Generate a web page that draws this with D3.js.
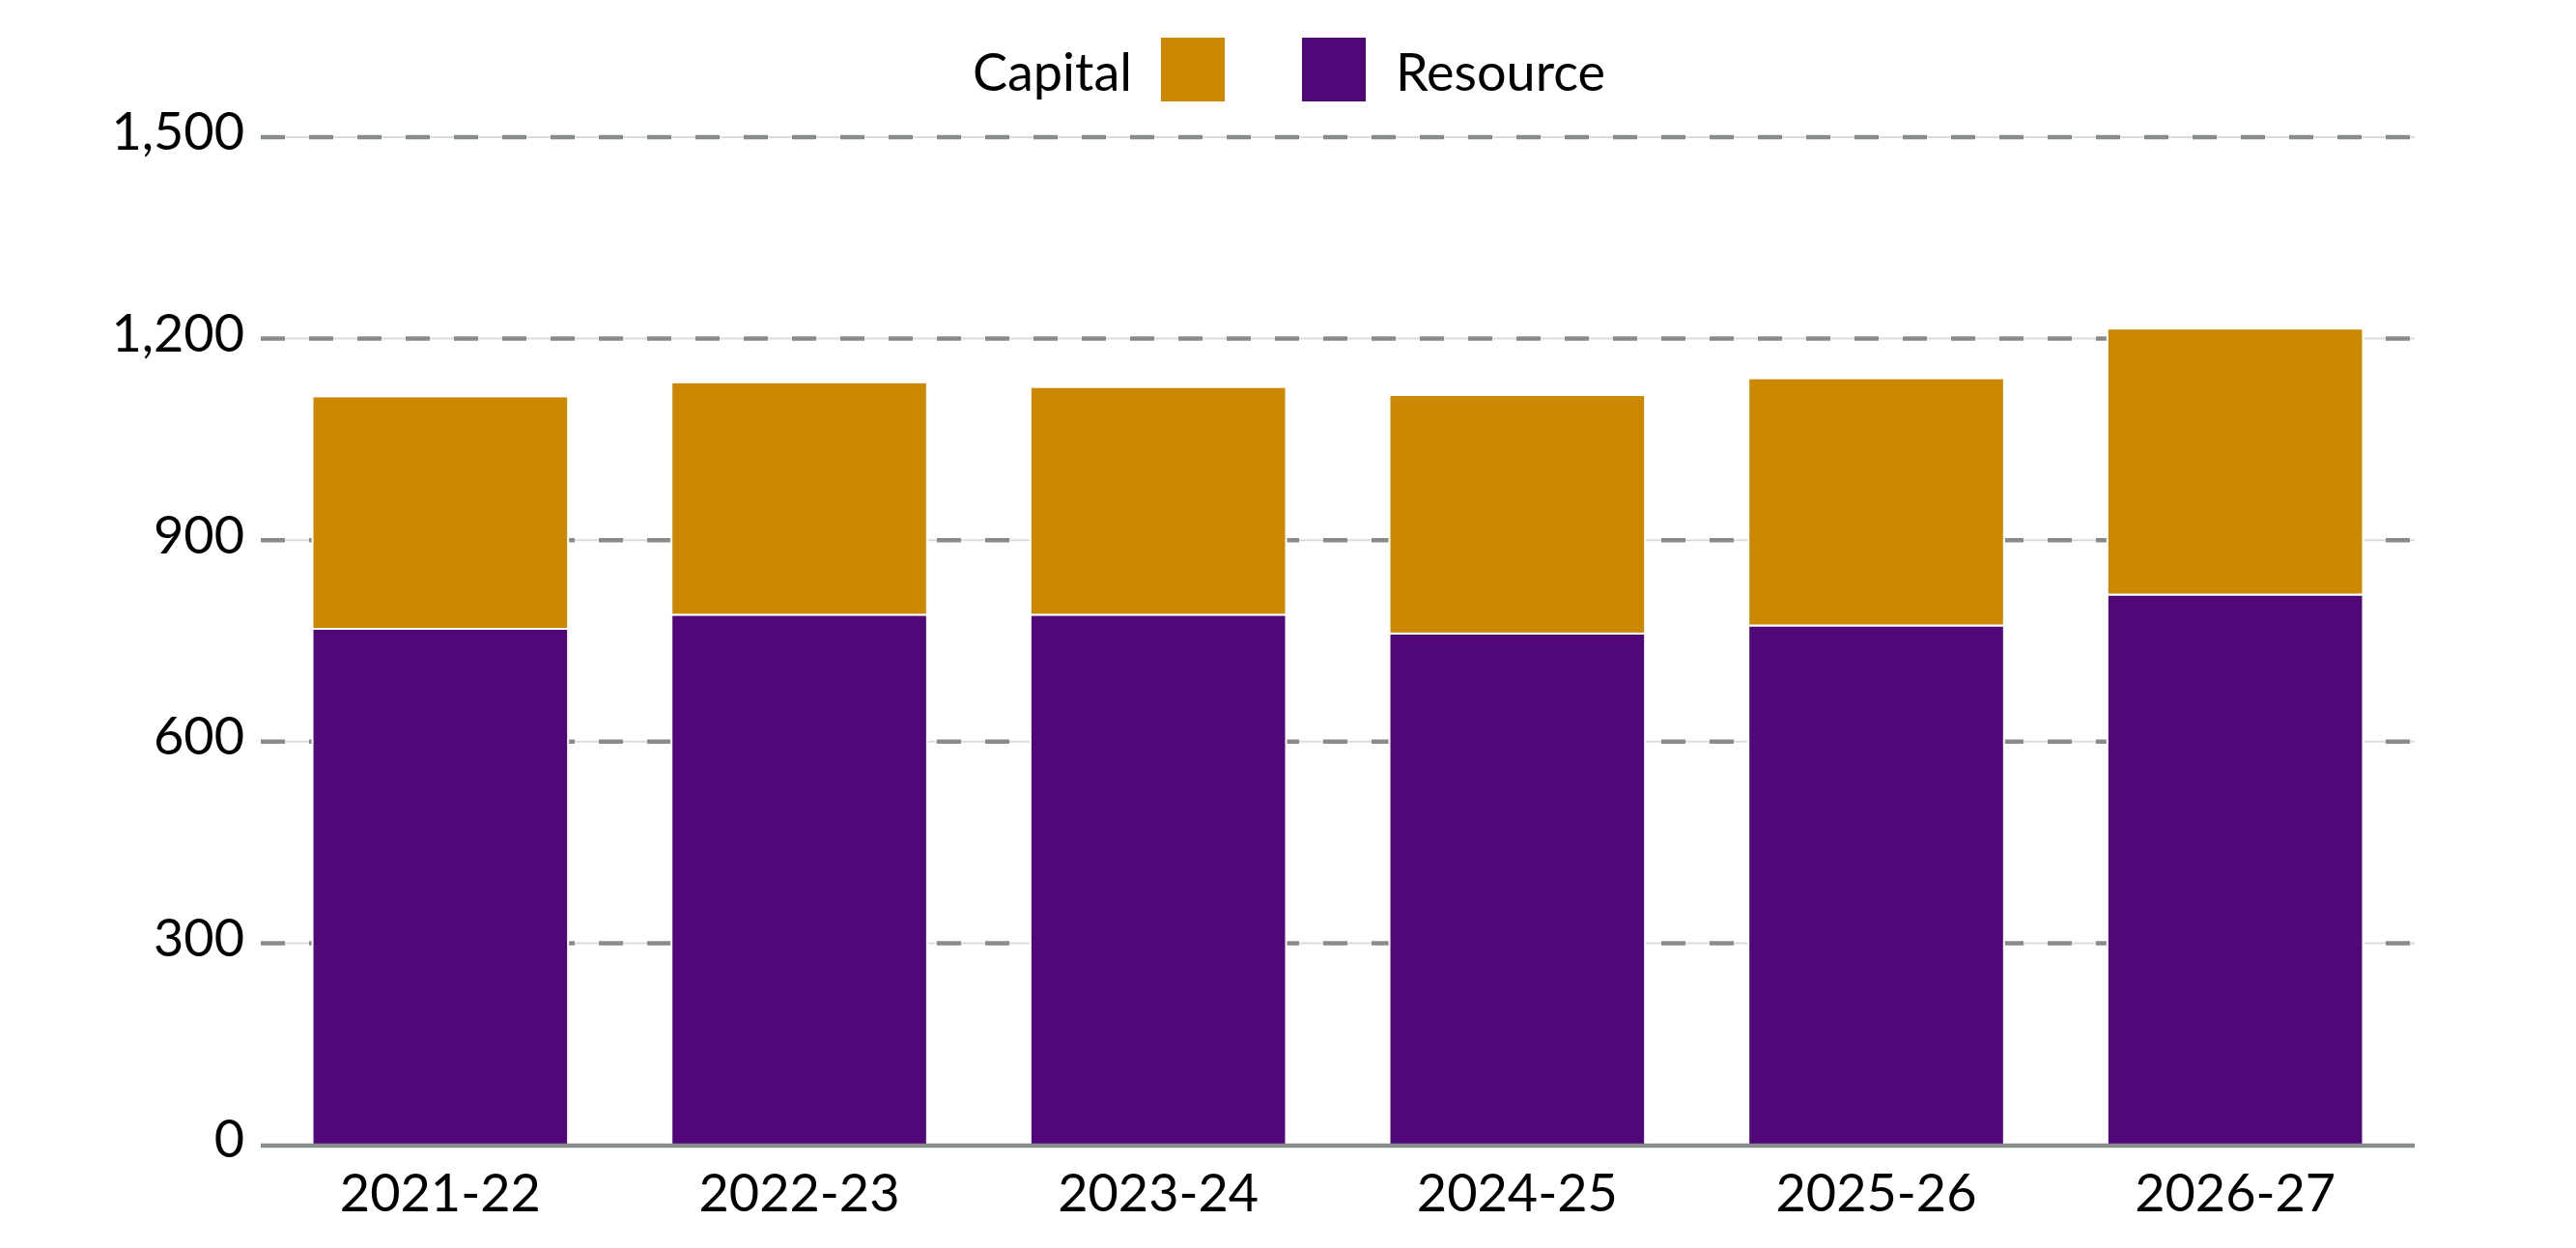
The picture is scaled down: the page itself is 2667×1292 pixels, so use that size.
<!DOCTYPE html>
<html>
<head>
<meta charset="utf-8">
<script src="https://cdn.jsdelivr.net/npm/d3@7"></script>
<style>
  body { margin: 0; background: #fff; }
  text { font-family: Lato, "Open Sans", sans-serif; fill: #000; }
</style>
</head>
<body>
<svg id="chart" width="2667" height="1292"></svg>
<script>
// values
const years = ['2021-22', '2022-23', '2023-24', '2024-25', '2025-26', '2026-27'];
const resource = [768, 789, 789, 761, 773, 819];
const capital = [346, 346, 339, 355, 368, 396];
const yTicks = [0, 300, 600, 900, 1200, 1500];

const colours = { Resource: '#500778', Capital: '#cc8800' };

const rows = years.map((yr, i) => ({ year: yr, Resource: resource[i], Capital: capital[i] }));

const svg = d3.select('#chart');
const plotLeft = 270, plotRight = 2500, plotTop = 142, plotBottom = 1185;
const fontSize = 54;

const x = d3.scaleBand()
  .domain(years)
  .range([plotLeft, plotRight])
  .paddingInner(0.288)
  .paddingOuter(0.144);

const y = d3.scaleLinear()
  .domain([0, 1500])
  .range([plotBottom, plotTop]);

// grid: a faint solid line with grey dashes on top
const gridTicks = yTicks.filter(d => d > 0);
const grid = svg.append('g');
grid.selectAll('line.under')
  .data(gridTicks)
  .join('line')
  .attr('class', 'under')
  .attr('x1', plotLeft).attr('x2', plotRight)
  .attr('y1', d => y(d)).attr('y2', d => y(d))
  .attr('stroke', '#dcdcdc')
  .attr('stroke-width', 2);
grid.selectAll('line.dash')
  .data(gridTicks)
  .join('line')
  .attr('class', 'dash')
  .attr('x1', plotLeft).attr('x2', plotRight)
  .attr('y1', d => y(d)).attr('y2', d => y(d))
  .attr('stroke', '#888b8d')
  .attr('stroke-width', 4.5)
  .attr('stroke-dasharray', '25 25');

const series = d3.stack().keys(['Resource', 'Capital'])(rows);

svg.append('g')
  .selectAll('g')
  .data(series)
  .join('g')
  .attr('fill', d => colours[d.key])
  .selectAll('rect')
  .data(d => d)
  .join('rect')
  .attr('x', d => x(d.data.year))
  .attr('width', x.bandwidth())
  .attr('y', d => y(d[1]))
  .attr('height', d => y(d[0]) - y(d[1]))
  .attr('stroke', '#fff')
  .attr('stroke-width', 2);

// y axis labels
const yAxis = d3.axisLeft(y)
  .tickValues(yTicks)
  .tickFormat(d3.format(','))
  .tickSize(0)
  .tickPadding(17);
const ya = svg.append('g')
  .attr('transform', `translate(${plotLeft},0)`)
  .call(yAxis);
ya.select('.domain').remove();
ya.selectAll('text')
  .attr('font-size', fontSize)
  .attr('font-family', 'Lato, sans-serif')
  .attr('fill', '#000')
  .attr('dy', '0.24em');

// baseline
svg.append('line')
  .attr('x1', plotLeft).attr('x2', plotRight)
  .attr('y1', y(0) + 1).attr('y2', y(0) + 1)
  .attr('stroke', '#888b8d')
  .attr('stroke-width', 4.5);

// x axis labels
const xAxis = d3.axisBottom(x).tickSize(0).tickPadding(31);
const xa = svg.append('g')
  .attr('transform', `translate(0,${plotBottom})`)
  .call(xAxis);
xa.select('.domain').remove();
xa.selectAll('text')
  .attr('font-size', fontSize)
  .attr('font-family', 'Lato, sans-serif')
  .attr('fill', '#000');

// legend
const legend = svg.append('g');
legend.append('text')
  .attr('x', 1172).attr('y', 94)
  .attr('text-anchor', 'end')
  .attr('font-size', fontSize)
  .text('Capital');
legend.append('rect')
  .attr('x', 1202).attr('y', 39).attr('width', 66).attr('height', 66)
  .attr('fill', colours.Capital);
legend.append('rect')
  .attr('x', 1348).attr('y', 39).attr('width', 66).attr('height', 66)
  .attr('fill', colours.Resource);
legend.append('text')
  .attr('x', 1445).attr('y', 94)
  .attr('font-size', fontSize)
  .text('Resource');
</script>
</body>
</html>
